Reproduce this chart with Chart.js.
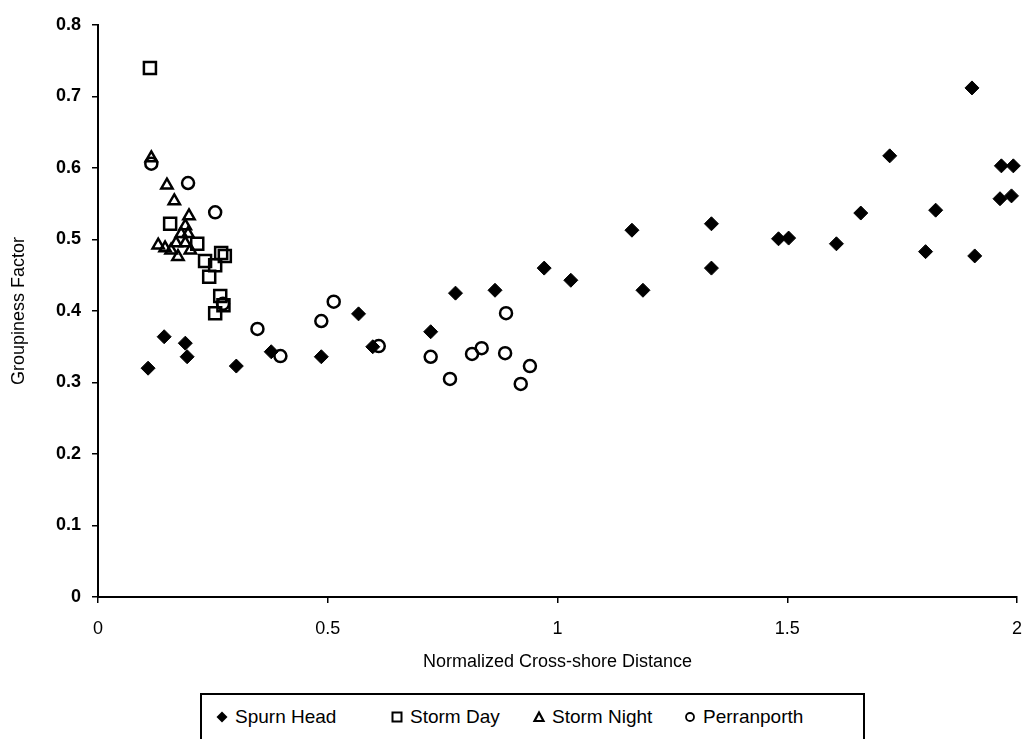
<!DOCTYPE html>
<html>
<head>
<meta charset="utf-8">
<script src="https://cdn.jsdelivr.net/npm/chart.js@4"></script>
<style>
  html, body { margin: 0; padding: 0; background: #fff; overflow: hidden; }
  #wrap { position: relative; width: 1028px; height: 739px; }
  #legend {
    position: absolute; left: 200px; top: 693px; width: 665px; height: 70px;
    border: 2px solid #000; box-sizing: border-box; background: #fff;
    font-family: "Liberation Sans", Arial, sans-serif; font-size: 19px; color: #000;
  }
  #legend .item { position: absolute; top: 11px; display: flex; align-items: center; white-space: nowrap; }
  #legend svg { margin-right: 6px; }
</style>
</head>
<body>
<div id="wrap">
  <canvas id="myChart" width="1028" height="739"></canvas>
  <div id="legend"></div>
</div>
<script>
const xTicks = [0, 0.5, 1, 1.5, 2];
const yTicks = [0, 0.1, 0.2, 0.3, 0.4, 0.5, 0.6, 0.7, 0.8];

const spurnHeadX = [0.109, 0.144, 0.190, 0.194, 0.301, 0.377, 0.486, 0.567, 0.598, 0.724, 0.778, 0.864, 0.971, 1.029, 1.162, 1.186, 1.335, 1.335, 1.481, 1.503, 1.607, 1.660, 1.723, 1.801, 1.823, 1.902, 1.908, 1.963, 1.988, 1.966, 1.992];
const spurnHeadY = [0.320, 0.364, 0.355, 0.336, 0.323, 0.343, 0.336, 0.396, 0.350, 0.371, 0.425, 0.429, 0.460, 0.443, 0.513, 0.429, 0.522, 0.460, 0.501, 0.502, 0.494, 0.537, 0.617, 0.483, 0.541, 0.712, 0.477, 0.557, 0.561, 0.603, 0.603];

const stormDayX = [0.113, 0.157, 0.216, 0.268, 0.276, 0.233, 0.255, 0.242, 0.266, 0.273, 0.255];
const stormDayY = [0.740, 0.522, 0.494, 0.481, 0.477, 0.470, 0.464, 0.448, 0.421, 0.408, 0.397];

const stormNightX = [0.116, 0.150, 0.166, 0.198, 0.190, 0.181, 0.196, 0.131, 0.146, 0.159, 0.170, 0.190, 0.174, 0.201];
const stormNightY = [0.614, 0.576, 0.554, 0.533, 0.519, 0.508, 0.508, 0.492, 0.488, 0.485, 0.495, 0.495, 0.476, 0.485];

const perranporthX = [0.116, 0.196, 0.255, 0.272, 0.347, 0.397, 0.486, 0.513, 0.611, 0.724, 0.766, 0.814, 0.835, 0.886, 0.888, 0.920, 0.940];
const perranporthY = [0.606, 0.579, 0.538, 0.410, 0.375, 0.337, 0.386, 0.413, 0.351, 0.336, 0.305, 0.340, 0.348, 0.341, 0.397, 0.298, 0.323];

const seriesNames = ['Spurn Head', 'Storm Day', 'Storm Night', 'Perranporth'];

const pts = (xs, ys) => xs.map((x, i) => ({ x: x, y: ys[i] }));
const FONT = '"Liberation Sans", Arial, sans-serif';

const datasets = [
  { label: seriesNames[0], data: pts(spurnHeadX, spurnHeadY), pointStyle: 'rectRot', clip: false,
    pointRadius: 7, backgroundColor: '#000', borderColor: '#000', borderWidth: 1 },
  { label: seriesNames[1], data: pts(stormDayX, stormDayY), pointStyle: 'rect', clip: false,
    pointRadius: 8.5, backgroundColor: 'rgba(255,255,255,0)', borderColor: '#000', borderWidth: 2.5 },
  { label: seriesNames[2], data: pts(stormNightX, stormNightY), pointStyle: 'triangle', clip: false,
    pointRadius: 6.5, backgroundColor: 'rgba(255,255,255,0)', borderColor: '#000', borderWidth: 2.5 },
  { label: seriesNames[3], data: pts(perranporthX, perranporthY), pointStyle: 'circle', clip: false,
    pointRadius: 6, backgroundColor: 'rgba(255,255,255,0)', borderColor: '#000', borderWidth: 2.5 }
];

const chart = new Chart(document.getElementById('myChart'), {
  type: 'scatter',
  data: { datasets: datasets },
  options: {
    responsive: false,
    animation: false,
    layout: { autoPadding: false, padding: { top: 25, right: 11, bottom: 0, left: 0 } },
    plugins: { legend: { display: false }, tooltip: { enabled: false } },
    scales: {
      x: {
        type: 'linear', min: 0, max: 2,
        afterBuildTicks: s => { s.ticks = xTicks.map(v => ({ value: v })); },
        // fixed axis band; the end labels are allowed to hang past the plot edges
        afterFit: s => { s.height = 142; s.paddingLeft = 0; s.paddingRight = 0; },
        grid: { display: true, drawOnChartArea: false, drawTicks: true, tickLength: 6, color: '#000', lineWidth: 1.5 },
        border: { display: true, color: '#000', width: 2 },
        ticks: { color: '#000', padding: 15, font: { family: FONT, size: 18 }, callback: v => String(v) },
        title: { display: true, text: 'Normalized Cross-shore Distance', color: '#000',
                 font: { family: FONT, size: 18 }, padding: { top: 0, bottom: 66 } }
      },
      y: {
        type: 'linear', min: 0, max: 0.8,
        afterBuildTicks: s => { s.ticks = yTicks.map(v => ({ value: v })); },
        afterFit: s => { s.width = 98; },
        grid: { display: true, drawOnChartArea: false, drawTicks: true, tickLength: 6, color: '#000', lineWidth: 1.5 },
        border: { display: true, color: '#000', width: 2 },
        ticks: { color: '#000', padding: 11, font: { family: FONT, size: 18, weight: 'bold' },
                 callback: v => (v === 0 ? '0' : v.toFixed(1)) },
        title: { display: true, text: 'Groupiness Factor', color: '#000',
                 font: { family: FONT, size: 18 }, padding: { top: 8, bottom: 0 } }
      }
    }
  }
});

// legend row under the axis title
const markerSvg = {
  rectRot: '<svg width="14" height="14"><polygon points="7,1.5 12.5,7 7,12.5 1.5,7" fill="#000"/></svg>',
  rect: '<svg width="14" height="14"><rect x="2.5" y="2.5" width="9" height="9" fill="none" stroke="#000" stroke-width="2"/></svg>',
  triangle: '<svg width="14" height="14"><polygon points="7,2.5 11.5,11 2.5,11" fill="none" stroke="#000" stroke-width="2.2"/></svg>',
  circle: '<svg width="14" height="14"><circle cx="7" cy="7" r="4" fill="none" stroke="#000" stroke-width="1.8"/></svg>'
};
const legendLeft = [13, 188, 330, 481];
const legend = document.getElementById('legend');
chart.data.datasets.forEach((ds, i) => {
  const item = document.createElement('div');
  item.className = 'item';
  item.style.left = legendLeft[i] + 'px';
  item.innerHTML = markerSvg[ds.pointStyle] + '<span>' + ds.label + '</span>';
  legend.appendChild(item);
});
</script>
</body>
</html>
